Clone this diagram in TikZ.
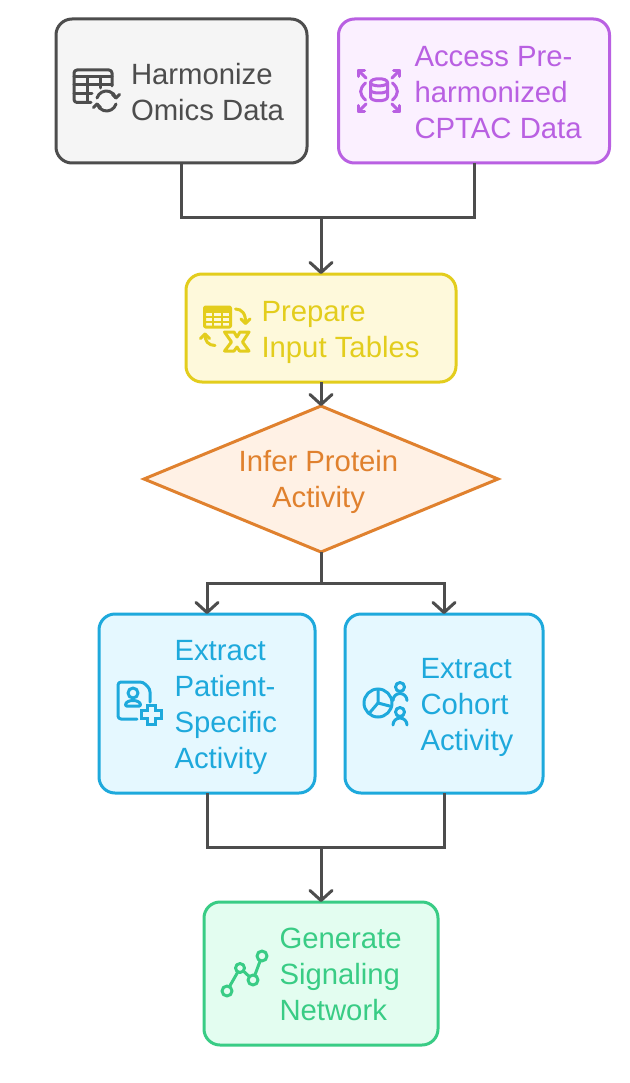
\documentclass[tikz,border=0pt]{standalone}
\usepackage{fontspec}
\setmainfont{Liberation Sans}
\usetikzlibrary{arrows.meta,shapes.geometric}
\definecolor{cgray}{HTML}{4D4D4D}\definecolor{fgray}{HTML}{F5F5F5}
\definecolor{cpurple}{HTML}{B960E2}\definecolor{fpurple}{HTML}{FBF0FF}
\definecolor{cyellow}{HTML}{E3CD1D}\definecolor{fyellow}{HTML}{FEF9DB}
\definecolor{corange}{HTML}{E0812E}\definecolor{forange}{HTML}{FFF1E5}
\definecolor{cblue}{HTML}{1EA9DC}\definecolor{fblue}{HTML}{E5F8FF}
\definecolor{cgreen}{HTML}{39CC85}\definecolor{fgreen}{HTML}{E3FDF0}
\tikzset{
  boxnode/.style={draw=#1,text=#1,rectangle,rounded corners=16pt,line width=3pt,inner sep=0pt,outer sep=0pt},
  labelnode/.style={text=#1,inner sep=0pt,outer sep=0pt,align=left,anchor=west,font=\fontsize{29.3}{36}\selectfont},
  conn/.style={draw=cgray,line width=3pt},
  arrowconn/.style={conn,-{Straight Barb[length=10pt,width=22pt,line width=3pt,round]}},
  iconline/.style={draw=#1,line width=3pt,line cap=round,line join=round},
}
\newcommand{\lab}[1]{\strut #1}
\begin{document}
\begin{tikzpicture}[x=1pt,y=-1pt]
\useasboundingbox[fill=white] (0,0) rectangle (629,1083);
% boxes
\node[boxnode=cgray,fill=fgray,minimum width=251pt,minimum height=144pt] (harm) at (181.5,91) {};
\node[boxnode=cpurple,fill=fpurple,minimum width=271pt,minimum height=144pt] (access) at (474,91) {};
\node[boxnode=cyellow,fill=fyellow,minimum width=270pt,minimum height=108pt] (prep) at (321,328) {};
\node[diamond,draw=corange,fill=forange,line width=3pt,inner sep=0pt,outer sep=0pt,aspect=2.42,minimum width=354pt,minimum height=146pt] (infer) at (321,479) {};
\node[boxnode=cblue,fill=fblue,minimum width=216pt,minimum height=179pt] (patient) at (207,703.5) {};
\node[boxnode=cblue,fill=fblue,minimum width=198pt,minimum height=179pt] (cohort) at (444,703.5) {};
\node[boxnode=cgreen,fill=fgreen,minimum width=234pt,minimum height=143pt] (net) at (321,973.5) {};
% connectors
\coordinate (j1) at (321,218);
\coordinate (j2) at (321,583);
\coordinate (j3) at (321,847);
\draw[conn] (harm.south) |- (j1);
\draw[conn] (access.south) |- (j1);
\draw[arrowconn] (j1) -- (prep.north);
\draw[arrowconn] (prep.south) -- (infer.north);
\draw[conn] (infer.south) -- (j2);
\draw[arrowconn] (j2) -| (patient.north);
\draw[arrowconn] (j2) -| (cohort.north);
\draw[conn] (patient.south) |- (j3);
\draw[conn] (cohort.south) |- (j3);
\draw[arrowconn] (j3) -- (net.north);
% labels
\node[labelnode=cgray] (t1) at (131,95.3) {\lab{Harmonize}\\\lab{Omics Data}};
\node[labelnode=cpurple] (t2) at (414.5,95.3) {\lab{Access Pre-}\\\lab{harmonized}\\\lab{CPTAC Data}};
\node[labelnode=cyellow] (t3) at (261.5,331.8) {\lab{Prepare}\\\lab{Input Tables}};
\node[labelnode=corange,align=center,anchor=center] (t4) at (318.5,481.8) {\lab{Infer Protein}\\\lab{Activity}};
\node[labelnode=cblue] (t5) at (174.5,706.8) {\lab{Extract}\\\lab{Patient-}\\\lab{Specific}\\\lab{Activity}};
\node[labelnode=cblue] (t6) at (420.5,706.8) {\lab{Extract}\\\lab{Cohort}\\\lab{Activity}};
\node[labelnode=cgreen] (t7) at (279.5,976.8) {\lab{Generate}\\\lab{Signaling}\\\lab{Network}};
% icon: table + refresh
\begin{scope}[iconline=cgray]
\draw[rounded corners=3pt] (91,102.5) -- (74,102.5) -- (74,70) -- (112,70) -- (112,86);
\draw (74,76.5) -- (112,76.5);
\draw (74,84.5) -- (112,84.5);
\draw (74,93.5) -- (92,93.5);
\draw (87,76.5) -- (87,102);
\draw (100,76.5) -- (100,88);
\draw[fill=fgray,draw=none] (107,101) circle[radius=12.5];
\draw (97,98) arc[start angle=197,end angle=343,radius=9.9];
\draw (116,104) arc[start angle=17,end angle=163,radius=9.9];
\draw (112.5,94.5) -- (116,98) -- (119.5,94.5);
\draw (93.5,107.5) -- (97,104) -- (100.5,107.5);
\end{scope}
% icon: database with arrows
\begin{scope}[iconline=cpurple]
\draw (366,78) -- (358.5,70.5); \draw (358.5,76.5) -- (358.5,70.5) -- (364.5,70.5);
\draw (392,78) -- (399.5,70.5); \draw (399.5,76.5) -- (399.5,70.5) -- (393.5,70.5);
\draw (366,104) -- (358.5,111.5); \draw (358.5,105.5) -- (358.5,111.5) -- (364.5,111.5);
\draw (392,104) -- (399.5,111.5); \draw (399.5,105.5) -- (399.5,111.5) -- (393.5,111.5);
\draw (370.5,82.5) .. controls (370.5,77.5) and (387.5,77.5) .. (387.5,82.5)
      -- (387.5,97) .. controls (387.5,102) and (370.5,102) .. (370.5,97) -- cycle;
\draw (370.5,82.5) .. controls (370.5,87) and (387.5,87) .. (387.5,82.5);
\draw (370.5,90) .. controls (370.5,94) and (387.5,94) .. (387.5,90);
\draw (365.5,83) .. controls (359,89) and (359,94) .. (365.5,100);
\draw (392.5,83) .. controls (399,89) and (399,94) .. (392.5,100);
\end{scope}
% icon: spreadsheet convert
\begin{scope}[iconline=cyellow]
\draw[rounded corners=1pt] (204.5,307) rectangle (230.5,327);
\draw[line width=5pt,line cap=butt] (204.5,310) -- (230.5,310);
\draw[line width=2pt,line cap=butt] (204.5,316.5) -- (230.5,316.5);
\draw[line width=2pt,line cap=butt] (204.5,321.5) -- (230.5,321.5);
\draw[line width=2pt,line cap=butt] (213,312) -- (213,327);
\draw[line width=2pt,line cap=butt] (222,312) -- (222,327);
\draw (235.5,309) .. controls (242,309) and (246,314) .. (245.5,323);
\draw (241,319) -- (245.5,323.5) -- (250,319);
\draw (215,345.5) .. controls (208.5,345.5) and (204.5,341) .. (205,334);
\draw (200.5,338.5) -- (205,334) -- (209.5,338.5);
\draw (224.5,332) -- (234,332) -- (237,337) -- (240,332) -- (249,332) -- (242.5,342)
      -- (249,351) -- (239.5,351) -- (237,347) -- (234,351) -- (224.5,351) -- (231.5,342) -- cycle;
\end{scope}
% icon: patient record
\begin{scope}[iconline=cblue]
\draw[rounded corners=3pt] (137,719) -- (118,719) -- (118,682) -- (143,682) -- (150,689) -- (150,702);
\draw (133,693) circle[radius=5];
\draw[rounded corners=1pt] (125.5,706) .. controls (125.5,699) and (140.5,699) .. (140.5,706) -- cycle;
\draw[line join=miter] (147,705) -- (155,705) -- (155,710) -- (161,710) -- (161,718) -- (155,718)
      -- (155,724) -- (147,724) -- (147,718) -- (141,718) -- (141,710) -- (147,710) -- cycle;
\end{scope}
% icon: cohort pie
\begin{scope}[iconline=cblue]
\draw (378,703) circle[radius=14];
\draw (378,689) -- (378,703) -- (391.5,706.5);
\draw (378,703) -- (369,713.5);
\draw (400,687) circle[radius=4.5];
\draw (393,700.5) arc[start angle=180,end angle=360,radius=7];
\draw (400,712) circle[radius=4.5];
\draw (393,725) arc[start angle=180,end angle=360,radius=7];
\end{scope}
% icon: network
\begin{scope}[iconline=cgreen]
\draw (227,991) circle[radius=5];
\draw (240,968) circle[radius=4.5];
\draw (253,980) circle[radius=5];
\draw (262,956) circle[radius=5];
\draw (229.5,986.5) -- (237.8,972);
\draw (243.5,971.2) -- (249.4,976.6);
\draw (254.8,975.3) -- (260.2,960.7);
\end{scope}
\end{tikzpicture}
\end{document}
